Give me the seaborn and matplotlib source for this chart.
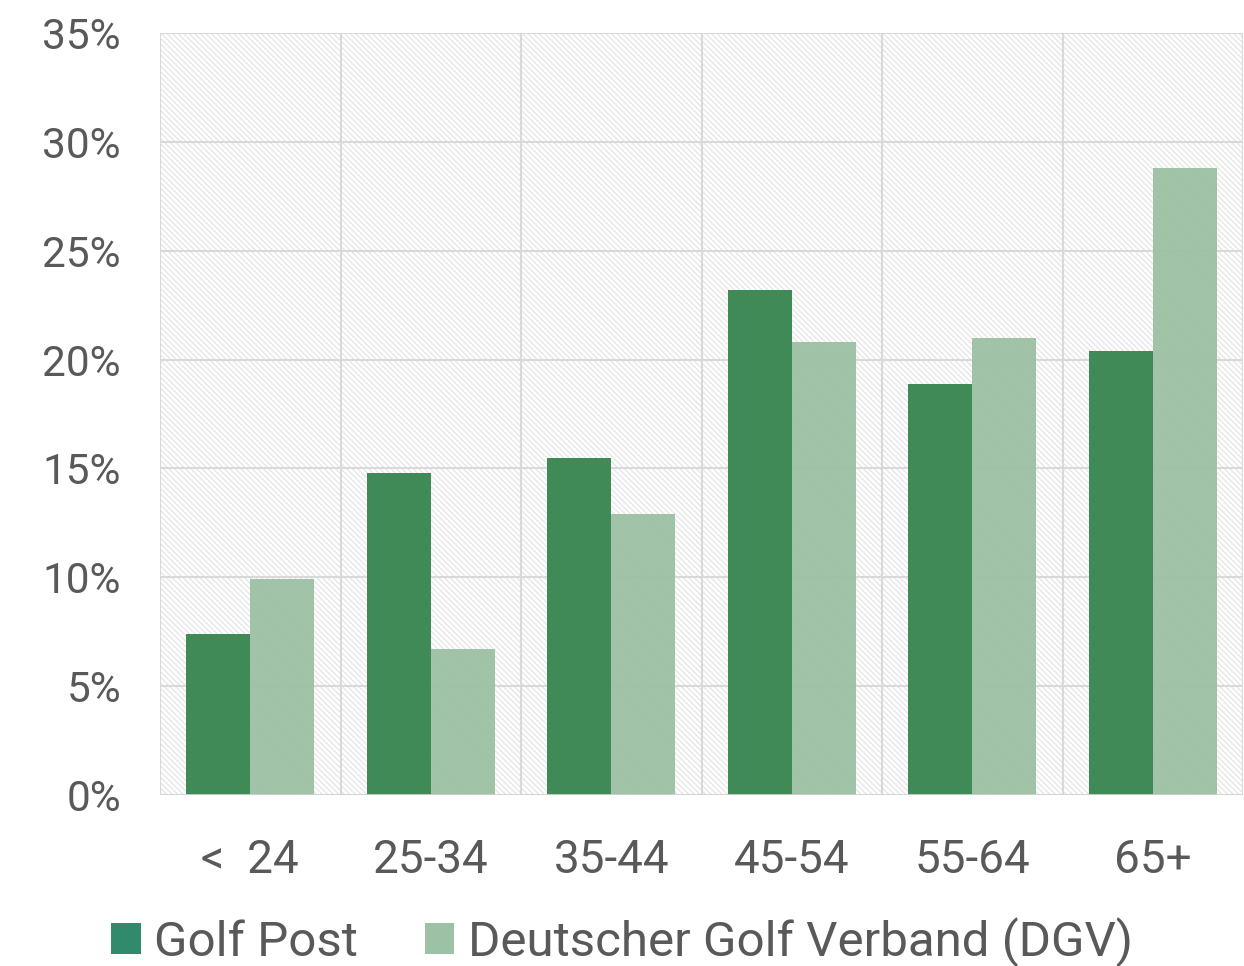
import numpy as np
import pandas as pd
import seaborn as sns
import matplotlib.pyplot as plt
from matplotlib.patches import Rectangle, Patch

# age groups and shares (%)
ages = ["<  24", "25-34", "35-44", "45-54", "55-64", "65+"]
golf_post = [7.4, 14.8, 15.5, 23.2, 18.9, 20.4]
dgv = [9.9, 6.7, 12.9, 20.8, 21.0, 28.8]
series = ["Golf Post", "Deutscher Golf Verband (DGV)"]

df = pd.DataFrame({
	"age": ages * 2,
	"share": golf_post + dgv,
	"source": [series[0]] * len(ages) + [series[1]] * len(ages),
})

sns.set_style("white")
plt.rcParams['font.family'] = ['Roboto', 'DejaVu Sans']
plt.rcParams['hatch.linewidth'] = 0.8
plt.rcParams['hatch.color'] = '#e2e2e2'

txt = '#595959'
grid = '#d9d9d9'
cols = ['#3f8a56', '#9cc1a4']

fig = plt.figure(figsize=(12.44, 9.66), dpi=100)
ax = fig.add_axes([160/1244, 1 - 795/966, 1083/1244, (795-33)/966])

# hatched background
bg = Rectangle((0, 0), 1, 1, transform=ax.transAxes, facecolor='white',
	edgecolor='#e2e2e2', hatch='\\\\\\\\\\\\', lw=0, zorder=0)
ax.add_patch(bg)

for yv in np.arange(5, 36, 5):
	ax.axhline(yv, color=grid, lw=1.5, zorder=1)
for xv in np.arange(-0.5, 6, 1):
	ax.axvline(xv, color=grid, lw=1.5, zorder=1)
ax.axhline(0, color='#d0d0d0', lw=2, zorder=4)

sns.barplot(data=df, x="age", y="share", hue="source", palette=cols,
	width=0.707, gap=0, ax=ax, legend=False, zorder=3, errorbar=None,
	saturation=1, edgecolor='none')
for b in ax.containers[1]:
	b.set_alpha(0.95)

ax.set_xlim(-0.5, 5.5)
ax.set_ylim(0, 35)
ax.set_yticks(np.arange(0, 36, 5))
ax.set_yticklabels([f"{v}%" for v in range(0, 36, 5)], fontsize=30.5, color=txt)
ax.set_xticks(range(len(ages)))
ax.set_xticklabels(ages, fontsize=33, color=txt)
ax.tick_params(axis='y', length=0, pad=28)
ax.tick_params(axis='x', length=0, pad=31)
ax.set_xlabel("")
ax.set_ylabel("")
for s in ax.spines.values():
	s.set_visible(False)

handles = [Patch(facecolor='#318a6c', edgecolor='none'),
	Patch(facecolor='#9cc1a4', edgecolor='none')]
fig.legend(handles, series, loc='center', bbox_to_anchor=(622/1244, 1 - 942/966),
	ncol=2, frameon=False, fontsize=35.5, labelcolor=txt, handlelength=0.6,
	handleheight=0.6, handletextpad=0.27, columnspacing=1.35, borderpad=0)

plt.savefig("out.png", dpi=100, facecolor='w')
